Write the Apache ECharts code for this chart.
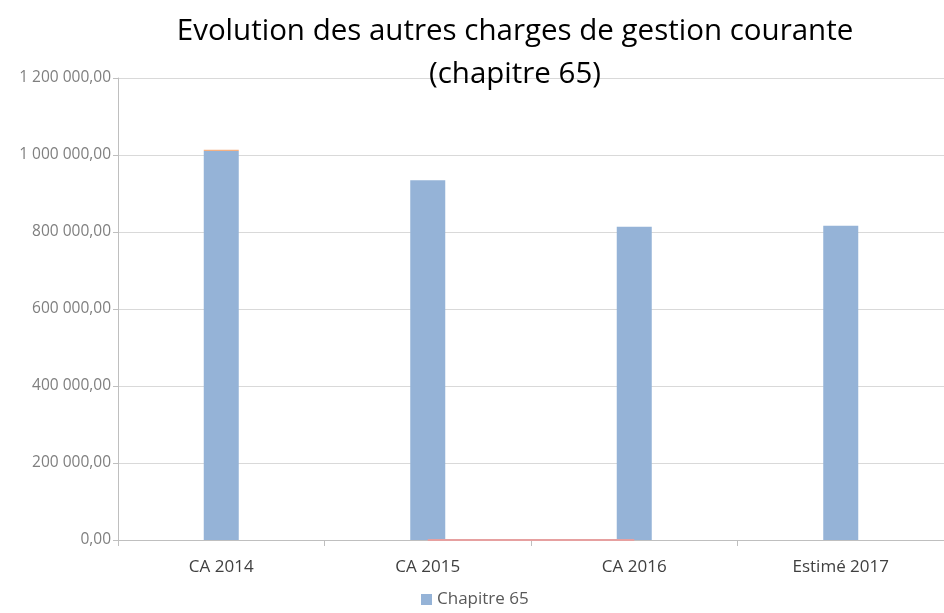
<!DOCTYPE html>
<html>
<head>
<meta charset="utf-8">
<script src="https://cdn.jsdelivr.net/npm/echarts@6/dist/echarts.min.js"></script>
<style>
html,body{margin:0;padding:0;background:#fff;}
#chart{width:944px;height:613px;}
</style>
</head>
<body>
<div id="chart"></div>
<script>
var categories=['CA 2014','CA 2015','CA 2016','Estimé 2017'];
var chapitre65=[1010500,934300,813800,816400];//valeurs
var autres=[3000,0,0,0];//petite part orange au-dessus de 2014
var ligneBas=[null,0,0,null];//trait orange le long de l'axe

function fmt(v){
	var s=Math.round(v).toString().replace(/\B(?=(\d{3})+(?!\d))/g,' ');
	return s+',00';
}

var myChart=echarts.init(document.getElementById('chart'));
myChart.setOption({
	animation:false,
	title:{
		text:'Evolution des autres charges de gestion courante\n(chapitre 65)',
		left:510,
		textAlign:'center',
		top:5,
		textStyle:{fontFamily:'Open Sans',fontSize:29.5,fontWeight:'normal',color:'#000',lineHeight:43}
	},
	legend:{
		data:['Chapitre 65'],
		top:591,
		left:421,
		padding:0,
		itemWidth:11,
		itemHeight:11,
		itemGap:5,
		icon:'rect',
		textStyle:{fontFamily:'Open Sans',fontSize:17,color:'#595959'}
	},
	grid:{left:118,right:-10,top:78,bottom:73},
	xAxis:{
		type:'category',
		data:categories,
		axisLine:{lineStyle:{color:'#BFBFBF'}},
		axisTick:{show:true,length:6,lineStyle:{color:'#BFBFBF'}},
		axisLabel:{fontFamily:'Open Sans',fontSize:17,color:'#404040',margin:19}
	},
	yAxis:{
		type:'value',
		min:0,
		max:1200000,
		interval:200000,
		axisLine:{show:true,lineStyle:{color:'#BFBFBF'}},
		axisTick:{show:true,length:5,lineStyle:{color:'#BFBFBF'}},
		splitLine:{lineStyle:{color:'#D9D9D9'}},
		axisLabel:{fontFamily:'Open Sans',fontSize:15.5,color:'#7F7F7F',margin:7,formatter:fmt}
	},
	series:[
		{
			name:'Chapitre 65',
			type:'bar',
			stack:'total',
			data:chapitre65,
			barWidth:35,
			itemStyle:{color:'#95B3D7'}
		},
		{
			name:'Autres',
			type:'bar',
			stack:'total',
			data:autres,
			barWidth:35,
			itemStyle:{color:'#F4B183'}
		},
		{
			name:'Trait',
			type:'line',
			data:ligneBas,
			symbol:'none',
			lineStyle:{color:'#E6A0A0',width:2},
			z:5
		}
	]
});
</script>
</body>
</html>
